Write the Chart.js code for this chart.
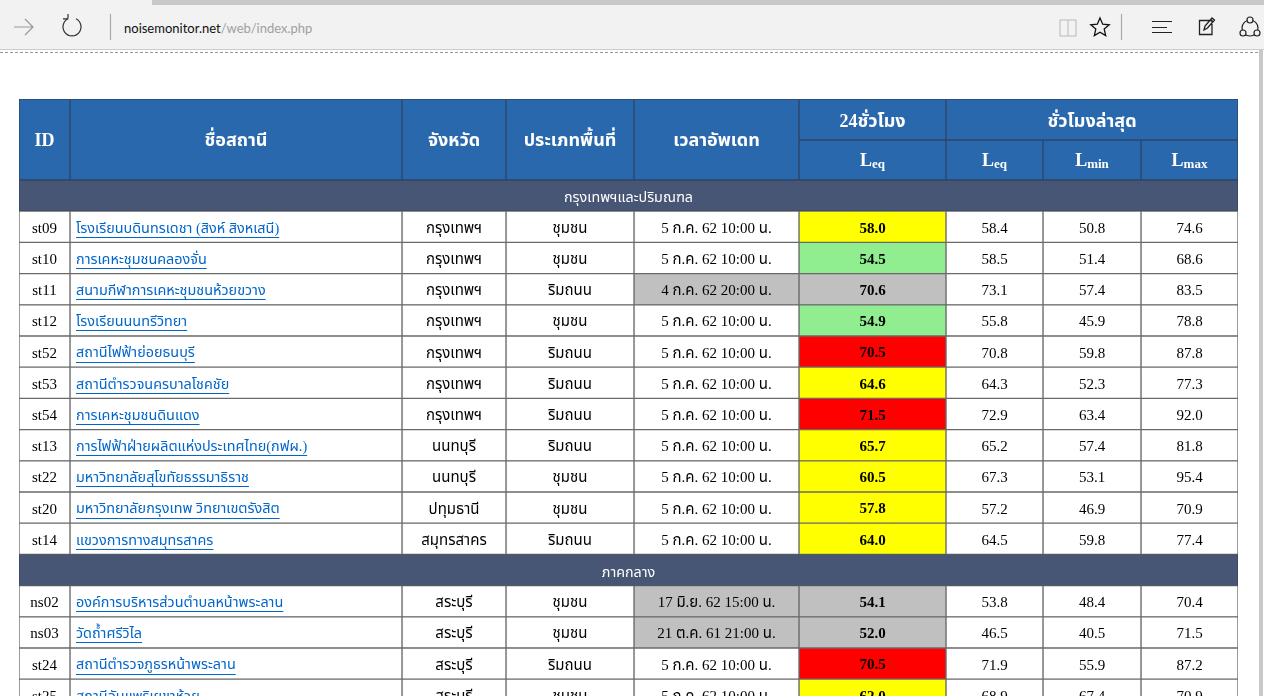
<!DOCTYPE html>
<html lang="th"><head><meta charset="utf-8">
<script src="https://cdn.jsdelivr.net/npm/chart.js@4"></script>
<style>
html,body{margin:0;padding:0;width:1264px;height:696px;overflow:hidden;background:#fff}
#bar{position:absolute;left:0;top:0;width:1264px;height:50px;background:#f2f2f2;border-bottom:1px solid #ccc;box-sizing:border-box}
#strip{position:absolute;left:152px;top:0;right:0;height:5px;background:#c8c8c8}
#url{position:absolute;left:124px;top:18px;font:13px "Lato",sans-serif;color:#111;line-height:20px}
#url span{color:#a0a0a0}
#dash{position:absolute;left:0;top:52px;width:1258px;height:0;border-top:1px dashed #999}
#scroll{position:absolute;left:1259px;top:50px;width:4px;height:646px;background:#c8c8c8}
svg{position:absolute;left:0;top:0}
#wrap{position:absolute;left:0;top:0;width:1264px;height:696px}
</style></head><body>
<div id="wrap"><canvas id="c" width="1264" height="696"></canvas></div>
<div id="bar"><div id="strip"></div>
<div id="url">noisemonitor.net<span>/web/index.php</span></div>
<svg width="1264" height="50" fill="none" stroke="#333" stroke-width="1.2">
<path d="M14 27H33M25 19l8 8-8 8" stroke="#999"/>
<path d="M68 18.8A9 9 0 1 0 76 18.8M68 18.8V14M68 18.8H63" />
<path d="M110.500 14V40M1121.500 14V40" stroke="#aaa"/>
<path d="M1060 20h8v16h-8zM1068 20h8v16h-8z" stroke="#ccc" stroke-width="1.5"/>
<path d="M1100 18l2.700 6.200 6.500.6-5 4.300 1.500 6.500-5.700-3.400-5.700 3.400 1.500-6.500-5-4.300 6.500-.6z" stroke="#111" stroke-width="1.300"/>
<path d="M1152 21.500H1172M1152 27.500H1167M1152 32.500H1172" stroke="#222"/>
<path d="M1199.500 20.500H1212V34.500H1199.500zM1204 30l1-4 7-8 2.500 2-7 8z" stroke="#222" stroke-width="1.300"/>
<circle cx="1250" cy="28" r="8" stroke="#222"/><circle cx="1250" cy="20" r="3" fill="#f2f2f2" stroke="#222"/><circle cx="1243" cy="33" r="3" fill="#f2f2f2" stroke="#222"/><circle cx="1257" cy="33" r="3" fill="#f2f2f2" stroke="#222"/>
</svg></div>
<div id="dash"></div><div id="scroll"></div>
<script>
const ids=["st09","st10","st11","st12","st52","st53","st54","st13","st22","st20","st14","ns02","ns03","st24","st25"];
const stations=["โรงเรียนบดินทรเดชา (สิงห์ สิงหเสนี)","การเคหะชุมชนคลองจั่น","สนามกีฬาการเคหะชุมชนห้วยขวาง","โรงเรียนนนทรีวิทยา","สถานีไฟฟ้าย่อยธนบุรี","สถานีตำรวจนครบาลโชคชัย","การเคหะชุมชนดินแดง","การไฟฟ้าฝ่ายผลิตแห่งประเทศไทย(กฟผ.)","มหาวิทยาลัยสุโขทัยธรรมาธิราช","มหาวิทยาลัยกรุงเทพ วิทยาเขตรังสิต","แขวงการทางสมุทรสาคร","องค์การบริหารส่วนตำบลหน้าพระลาน","วัดถ้ำศรีวิไล","สถานีตำรวจภูธรหน้าพระลาน","สถานีอันแพริเยขาห้วย"];
const provinces=["กรุงเทพฯ","กรุงเทพฯ","กรุงเทพฯ","กรุงเทพฯ","กรุงเทพฯ","กรุงเทพฯ","กรุงเทพฯ","นนทบุรี","นนทบุรี","ปทุมธานี","สมุทรสาคร","สระบุรี","สระบุรี","สระบุรี","สระบุรี"];
const areas=["ชุมชน","ชุมชน","ริมถนน","ชุมชน","ริมถนน","ริมถนน","ริมถนน","ริมถนน","ชุมชน","ชุมชน","ริมถนน","ชุมชน","ชุมชน","ริมถนน","ชุมชน"];
const updated=["5 ก.ค. 62 10:00 น.","5 ก.ค. 62 10:00 น.","4 ก.ค. 62 20:00 น.","5 ก.ค. 62 10:00 น.","5 ก.ค. 62 10:00 น.","5 ก.ค. 62 10:00 น.","5 ก.ค. 62 10:00 น.","5 ก.ค. 62 10:00 น.","5 ก.ค. 62 10:00 น.","5 ก.ค. 62 10:00 น.","5 ก.ค. 62 10:00 น.","17 มิ.ย. 62 15:00 น.","21 ต.ค. 61 21:00 น.","5 ก.ค. 62 10:00 น.","5 ก.ค. 62 10:00 น."];
const leq24=["58.0","54.5","70.6","54.9","70.5","64.6","71.5","65.7","60.5","57.8","64.0","54.1","52.0","70.5","62.0"];
const status24=["y","g","o","g","r","y","r","y","y","y","y","o","o","r","y"];
const stale=[0,0,1,0,0,0,0,0,0,0,0,1,1,0,0];
const leqHour=["58.4","58.5","73.1","55.8","70.8","64.3","72.9","65.2","67.3","57.2","64.5","53.8","46.5","71.9","68.9"];
const lminHour=["50.8","51.4","57.4","45.9","59.8","52.3","63.4","57.4","53.1","46.9","59.8","48.4","40.5","55.9","67.4"];
const lmaxHour=["74.6","68.6","83.5","78.8","87.8","77.3","92.0","81.8","95.4","70.9","77.4","70.4","71.5","87.2","70.9"];
const groups=["กรุงเทพฯและปริมณฑล","ภาคกลาง"];
const groupRows=[0,12];
const headers=["ID","ชื่อสถานี","จังหวัด","ประเภทพื้นที่","เวลาอัพเดท"];
const spanHeaders=["24ชั่วโมง","ชั่วโมงล่าสุด"];
const subHeaders=[["L","eq"],["L","eq"],["L","min"],["L","max"]];

const edges=[19,70,402,506,634,799,946,1043,1141,1238];
const ROW=31.2, HDR=81, HDR_UP=41, HDR_LO=40, TOP=99, GROUP_TOP=180;
const SERIF='"Liberation Serif","Noto Sans Thai","Tahoma",serif';
const palette={y:"#ffff00",g:"#90ee90",o:"#c0c0c0",r:"#ff0000",w:"#ffffff"};
const HEAD="#2a68ae",GROUP="#475675",BH="#2d4566",BB="#6a6a6a";

const rowOf=i=>{let r=i+1; if(i>=11) r+=1; return r;};
const cols=[
 i=>"w",i=>"w",i=>"w",i=>"w",i=>stale[i]?"o":"w",i=>status24[i],i=>"w",i=>"w",i=>"w"];
const datasets=[];
cols.forEach((f,c)=>{
  datasets.push({data:ids.map((_,i)=>({x:[edges[c],edges[c+1]],y:rowOf(i)+.5})),
    backgroundColor:ids.map((_,i)=>palette[f(i)]),borderColor:BB,borderWidth:1,barThickness:ROW,borderSkipped:false});
});
datasets.push({data:groupRows.map(r=>({x:[edges[0],edges[9]],y:r+.5})),backgroundColor:GROUP,borderColor:"#34435f",borderWidth:1,barThickness:ROW,borderSkipped:false});
const hdrMid=-HDR/ROW/2;
for(let c=0;c<5;c++) datasets.push({data:[{x:[edges[c],edges[c+1]],y:hdrMid}],backgroundColor:HEAD,borderColor:BH,borderWidth:1,barThickness:HDR,borderSkipped:false});
const upY=-(HDR_LO+HDR_UP/2)/ROW, loY=-(HDR_LO/2)/ROW;
datasets.push({data:[{x:[edges[5],edges[6]],y:upY},{x:[edges[6],edges[9]],y:upY}],backgroundColor:HEAD,borderColor:BH,borderWidth:1,barThickness:HDR_UP,borderSkipped:false});
for(let c=5;c<9;c++) datasets.push({data:[{x:[edges[c],edges[c+1]],y:loY}],backgroundColor:HEAD,borderColor:BH,borderWidth:1,barThickness:HDR_LO,borderSkipped:false});

const textPlugin={id:"cellText",afterDatasetsDraw(ch){
  const {ctx,scales:{x,y}}=ch;
  ctx.save();ctx.textBaseline="middle";
  const put=(t,px,py,font,col,al="center")=>{ctx.font=font;ctx.fillStyle=col;ctx.textAlign=al;ctx.fillText(t,px,py);};
  const cx=c=>x.getPixelForValue((edges[c]+edges[c+1])/2);
  headers.forEach((t,c)=>put(t,cx(c),y.getPixelForValue(hdrMid)+2,"bold 18px "+SERIF,"#fff"));
  put(spanHeaders[0],cx(5),y.getPixelForValue(upY)+3,"bold 18px "+SERIF,"#fff");
  put(spanHeaders[1],x.getPixelForValue((edges[6]+edges[9])/2),y.getPixelForValue(upY)+3,"bold 18px "+SERIF,"#fff");
  subHeaders.forEach((s,k)=>{
    const c=k+5,py=y.getPixelForValue(loY)+1;
    ctx.font="bold 18px "+SERIF;const a=ctx.measureText(s[0]).width;
    ctx.font="bold 13px "+SERIF;const b=ctx.measureText(s[1]).width;
    const l=cx(c)-(a+b)/2;
    put(s[0],l,py,"bold 18px "+SERIF,"#fff","left");
    put(s[1],l+a,py+4,"bold 13px "+SERIF,"#fff","left");
  });
  groups.forEach((t,k)=>put(t,x.getPixelForValue((edges[0]+edges[9])/2),y.getPixelForValue(groupRows[k]+.5)+3,"14.3px "+SERIF,"#fff"));
  ids.forEach((id,i)=>{
    const py=y.getPixelForValue(rowOf(i)+.5)+2, f="15px "+SERIF, k="#000";
    put(id,cx(0),py,f,k);
    put(stations[i],x.getPixelForValue(edges[1]+6),py,"14.4px "+SERIF,"#0066cc","left");
    const w=ctx.measureText(stations[i]).width;
    ctx.fillStyle="#0066cc";ctx.fillRect(x.getPixelForValue(edges[1]+6),Math.round(py+8),w,1);
    put(provinces[i],cx(2),py,f,k);
    put(areas[i],cx(3),py,f,k);
    put(updated[i],cx(4),py,f,k);
    put(leq24[i],cx(5),py,"bold 15px "+SERIF,k);
    put(leqHour[i],cx(6),py,f,k);
    put(lminHour[i],cx(7),py,f,k);
    put(lmaxHour[i],cx(8),py,f,k);
  });
  ctx.restore();
}};
new Chart(document.getElementById("c"),{type:"bar",data:{datasets},plugins:[textPlugin],options:{
  indexAxis:"y",responsive:false,animation:false,devicePixelRatio:1,
  layout:{padding:{top:TOP,left:edges[0],right:1264-edges[9],bottom:0}},
  datasets:{bar:{grouped:false}},
  plugins:{legend:{display:false},tooltip:{enabled:false},title:{display:false}},
  scales:{
    x:{type:"linear",display:false,offset:false,min:edges[0],max:edges[9]},
    y:{type:"linear",display:false,offset:false,reverse:true,min:-HDR/ROW,max:(696-GROUP_TOP)/ROW}
  }
}});
</script></body></html>
